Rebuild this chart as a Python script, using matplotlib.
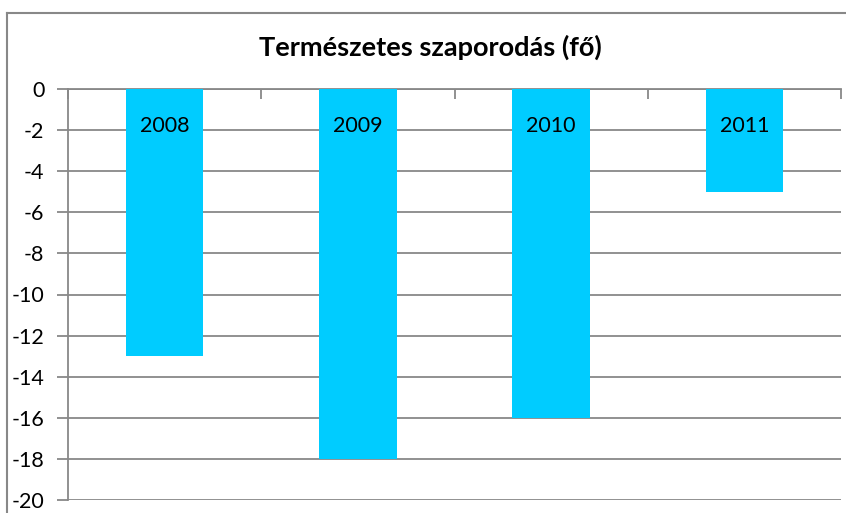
import numpy as np
import matplotlib as mpl
mpl.use('Agg')
import matplotlib.pyplot as plt
from matplotlib.lines import Line2D

years = ['2008', '2009', '2010', '2011']
values = [-13, -18, -16, -5]
y_ticks = list(range(0, -22, -2))

plt.rcParams['font.family'] = ['Lato', 'DejaVu Sans']

fig = plt.figure(figsize=(8.46, 5.13), dpi=100)
ax = fig.add_axes([68 / 846, 1 - 500 / 513, (841 - 68) / 846, (500 - 89) / 513])

x = np.arange(len(years))
ax.bar(x, values, width=0.40, color='#00CCFF', zorder=3)

ax.set_xlim(-0.5, len(years) - 0.5)
ax.set_ylim(-20, 0)
ax.set_yticks(y_ticks)
ax.set_yticklabels([str(v) for v in y_ticks], fontsize=15.5)
ax.yaxis.grid(True, color='#888888', linewidth=1.3, zorder=0)

ax.xaxis.tick_top()
ax.set_xticks(np.arange(-0.5, len(years), 1.0))
ax.set_xticklabels([])
ax.tick_params(axis='x', direction='in', length=7, color='#888888', width=1.3)
ax.tick_params(axis='y', direction='out', length=8, color='#888888', width=1.3, pad=9)

for s in ['right', 'bottom']:
    ax.spines[s].set_visible(False)
for s in ['left', 'top']:
    ax.spines[s].set_color('#888888')
    ax.spines[s].set_linewidth(1.3)

for xi, yr in zip(x, years):
    ax.text(xi, -1.8, yr, ha='center', va='center', fontsize=15.5, zorder=4)

fig.text(430 / 846, 1 - 47 / 513, 'Természetes szaporodás (fő)', ha='center', va='center',
         fontsize=19.5, fontweight='bold')

# chart frame
fig.add_artist(Line2D([7 / 846, 7 / 846], [0, 1 - 13 / 513], transform=fig.transFigure,
                      color='#888888', linewidth=1.5))
fig.add_artist(Line2D([7 / 846, 1], [1 - 13 / 513, 1 - 13 / 513], transform=fig.transFigure,
                      color='#888888', linewidth=1.5))

plt.savefig('out.png')
plt.close()
